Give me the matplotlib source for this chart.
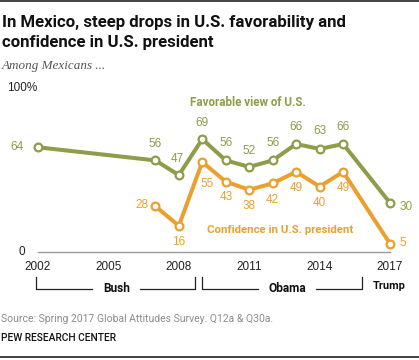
import matplotlib
matplotlib.use("Agg")
import matplotlib.pyplot as plt

years_fav = [2002, 2007, 2008, 2009, 2010, 2011, 2012, 2013, 2014, 2015, 2017]
fav = [64, 56, 47, 69, 56, 52, 56, 66, 63, 66, 30]
years_conf = [2007, 2008, 2009, 2010, 2011, 2012, 2013, 2014, 2015, 2017]
conf = [28, 16, 55, 43, 38, 42, 49, 40, 49, 5]
tick_years = [2002, 2005, 2008, 2011, 2014, 2017]

GREEN = "#8F9C4A"
ORANGE = "#EBA02E"
HEAD = ['Roboto', 'DejaVu Sans']

plt.rcParams['font.family'] = ['Liberation Sans', 'DejaVu Sans']

W, H = 419, 360
fig = plt.figure(figsize=(W / 100, H / 100), dpi=100)
ax = fig.add_axes([0, 0, 1, 1])
# pixel mapping: 2002 -> x=38, 23.47 px/year ; value 0 -> y=252, 1.636 px/unit
ax.set_xlim(2002 - 38 / 23.47, 2002 + (W - 38) / 23.47)
ax.set_ylim(-(H - 252) / 1.636, 252 / 1.636)
ax.axis('off')
renderer = fig.canvas.get_renderer()

def fx(px):
    return px / W

def fy(py):
    return 1 - py / H

def px2yr(px):
    return 2002 + (px - 38) / 23.47

def py2val(py):
    return (252 - py) / 1.636

def fit(t, width):
    # scale the font so the text is about `width` pixels wide
    for _ in range(3):
        w = t.get_window_extent(renderer).width
        t.set_fontsize(t.get_fontsize() * width / w)
    return t

# baseline
ax.plot([2002, 2017], [0, 0], color="#9a9a9a", lw=1.0, zorder=1)

for xs, ys, c in [(years_fav, fav, GREEN), (years_conf, conf, ORANGE)]:
    ax.plot(xs, ys, color=c, lw=2.9, zorder=2)
    ax.plot(xs, ys, 'o', ms=5.6, mfc='white', mec=c, mew=1.6, zorder=3)

# value labels (offsets in pixels)
fav_off = [(-14, 0, 'right'), (0, 16, 'center'), (-2, 16, 'center'), (0, 16, 'center'),
           (0, 17, 'center'), (0, 16, 'center'), (0, 17, 'center'), (0, 17, 'center'),
           (0, 18, 'center'), (0, 17, 'center'), (9, -4, 'left')]
conf_off = [(-7, 1, 'right'), (0, -16, 'center'), (5, -22, 'center'), (0, -15, 'center'),
            (0, -16, 'center'), (0, -17, 'center'), (0, -16, 'center'), (0, -16, 'center'),
            (0, -16, 'center'), (9, 1, 'left')]
for xs, ys, offs, c in [(years_fav, fav, fav_off, GREEN), (years_conf, conf, conf_off, ORANGE)]:
    for x, y, (dx, dy, ha) in zip(xs, ys, offs):
        ax.annotate(str(y), (x, y), xytext=(dx, dy), textcoords='offset pixels',
                    ha=ha, va='center', color=c, fontsize=8.5)

fit(ax.text(px2yr(248), py2val(103), "Favorable view of U.S.", color=GREEN, fontsize=8,
            fontweight='bold', ha='center', va='center', family=HEAD), 116)
fit(ax.text(px2yr(280), py2val(230), "Confidence in U.S. president", color=ORANGE, fontsize=8,
            fontweight='bold', ha='center', va='center', family=HEAD), 147)

# y labels
ax.text(px2yr(25), 0, "0", ha='right', va='center', fontsize=8.5, color="#222222")
ax.text(px2yr(37), 100, "100%", ha='right', va='center', fontsize=8.5, color="#222222")

for yr in tick_years:
    ax.text(yr, py2val(267), str(yr), ha='center', va='center', fontsize=8.5, color="#222222")

# president brackets
ytop = py2val(277)
ybot = py2val(289)

def bracket(x0, x1, t0, t1, label, tx, tw):
    kw = dict(color="#222222", lw=0.9)
    ax.plot([px2yr(x0), px2yr(x0), px2yr(t0)], [ytop, ybot, ybot], **kw)
    ax.plot([px2yr(t1), px2yr(x1), px2yr(x1)], [ybot, ybot, ytop], **kw)
    fit(ax.text(px2yr(tx), ybot, label, ha='center', va='center', fontsize=8,
                fontweight='bold', family=HEAD, color="#111111"), tw)

bracket(36, 195, 92, 140, "Bush", 117, 27)
bracket(202, 362, 258, 316, "Obama", 287, 38)
fit(ax.text(px2yr(389), py2val(286), "Trump", ha='center', va='center', fontsize=8,
            fontweight='bold', family=HEAD, color="#111111"), 33)

# titles
t1 = fig.text(fx(2), fy(22), "In Mexico, steep drops in U.S. favorability and", fontsize=12,
              fontweight='bold', family=HEAD, va='center', ha='left', color="#111111")
fit(t1, 344)
fig.text(fx(2), fy(42), "confidence in U.S. president", fontsize=t1.get_fontsize(),
         fontweight='bold', family=HEAD, va='center', ha='left', color="#111111")
fit(fig.text(fx(2), fy(66), "Among Mexicans ...", fontsize=9, style='italic',
             family=['Liberation Serif', 'DejaVu Serif'], color="#555555", va='center'), 104)
fit(fig.text(fx(1), fy(319), "Source: Spring 2017 Global Attitudes Survey. Q12a & Q30a.",
             fontsize=7, color="#8c8c8c", va='center', family=HEAD), 271)
fit(fig.text(fx(1), fy(338), "PEW RESEARCH CENTER", fontsize=7, color="#111111",
             va='center', family=HEAD, fontweight='medium'), 116)

fig.add_artist(plt.Line2D([0, 1], [fy(1), fy(1)], color="#222222", lw=1.2))
fig.add_artist(plt.Line2D([0, 1], [fy(357), fy(357)], color="#222222", lw=1.2))

fig.savefig("out.png", dpi=100)
